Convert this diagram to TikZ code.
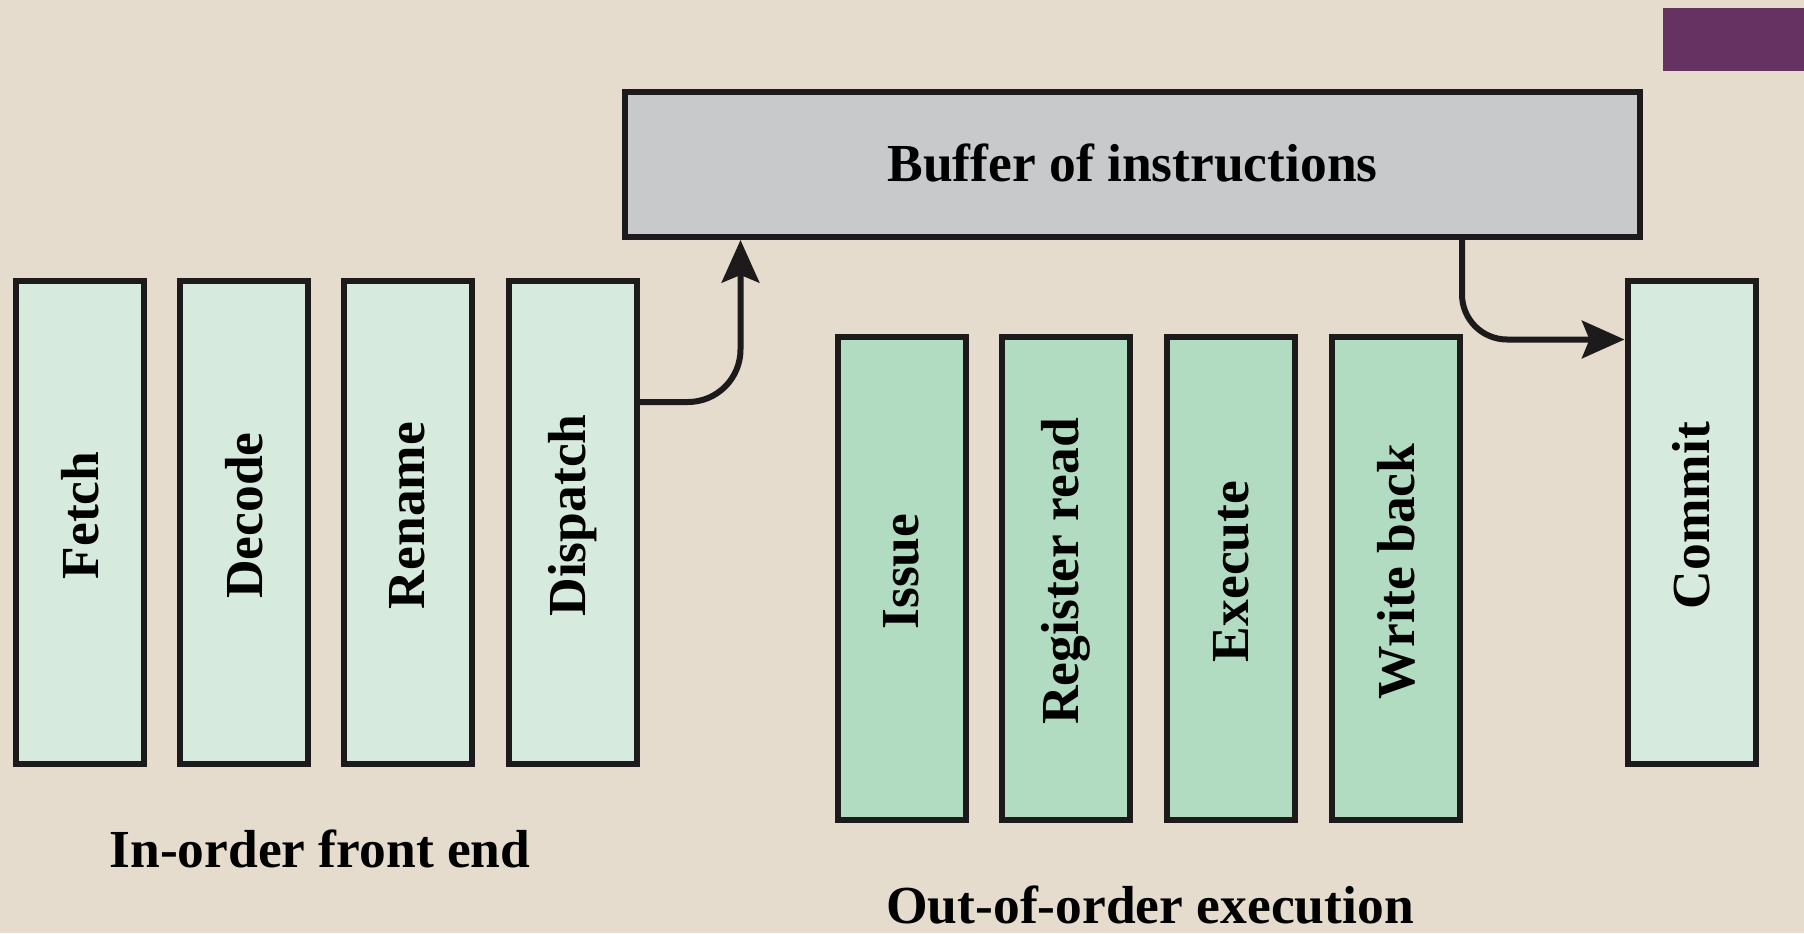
\documentclass[tikz,border=0pt]{standalone}
\usepackage{fontspec}
\usepackage{graphicx}
\setmainfont{Liberation Serif}
\usetikzlibrary{arrows.meta}

\definecolor{paper}{HTML}{E5DCCD}
\definecolor{frontfill}{HTML}{D6EBDD}
\definecolor{oooFill}{HTML}{B1DCC1}
\definecolor{bufFill}{HTML}{C8C9CB}
\definecolor{edge}{HTML}{1C1A1A}
\definecolor{tab}{HTML}{653262}

\tikzset{
  stage/.style={draw=edge, line width=2.4pt, inner sep=0pt,
    minimum width=51.2pt, minimum height=193.2pt,
    font=\fontsize{21.4}{24}\selectfont\bfseries},
  front/.style={stage, fill=frontfill},
  ooo/.style={stage, fill=oooFill},
  bufbox/.style={draw=edge, line width=2.4pt, fill=bufFill, inner sep=0pt,
    minimum width=406pt, minimum height=58pt,
    font=\fontsize{21.4}{24}\selectfont\bfseries},
  caption/.style={font=\fontsize{21.4}{24}\selectfont\bfseries, inner sep=0pt},
  flow/.style={draw=edge, line width=2.4pt,
    -{Stealth[length=17pt, width=15pt, inset=3pt]}}
}

% upright stage names, read bottom to top, set a little above centre
\newcommand{\vtext}[1]{\rotatebox{90}{\hspace*{5.6pt}#1}}

\begin{document}
\begin{tikzpicture}[x=0.4pt, y=-0.4pt]
  % paper background and corner tab
  \fill[paper] (0,0) rectangle (1804,933);
  \useasboundingbox (0,0) rectangle (1804,933);
  \fill[tab] (1663,8) rectangle (1804,71);

  % shared instruction buffer
  \node[bufbox] (buf) at (1132.5,164.5) {\raisebox{1.4pt}{Buffer of instructions}};

  % in-order front end
  \node[front] (fetch)  at (80,522.5)    {\vtext{Fetch}};
  \node[front] (decode) at (244,522.5)   {\vtext{Decode}};
  \node[front] (rename) at (407.5,522.5) {\vtext{Rename}};
  \node[front] (disp)   at (572.5,522.5) {\vtext{Dispatch}};

  % out-of-order execution
  \node[ooo] (issue) at (901.5,578.5) {\vtext{Issue}};
  \node[ooo] (regrd) at (1066,578.5)  {\vtext{Register read}};
  \node[ooo] (exec)  at (1231,578.5)  {\vtext{Execute}};
  \node[ooo] (wb)    at (1396,578.5)  {\vtext{Write back}};

  % retirement
  \node[front] (commit) at (1691.5,522.5) {\vtext{Commit}};

  % group captions
  \node[caption] (capfront) at (320,849) {In-order front end};
  \node[caption] (capooo)   at (1150,905) {Out-of-order execution};

  % dispatch into the buffer, buffer out to commit
  \draw[flow, rounded corners=21pt]
    ([yshift=48.2pt]disp.east) -| ([xshift=-156.8pt]buf.south);
  \draw[flow, rounded corners=18pt]
    ([xshift=131.8pt]buf.south) |- ([yshift=73.2pt]commit.west);
\end{tikzpicture}
\end{document}
